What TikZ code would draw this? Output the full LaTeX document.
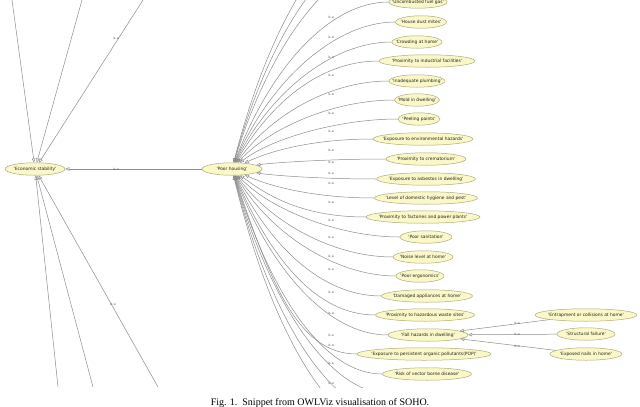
\documentclass[tikz,border=0pt]{standalone}
\usepackage{fontspec}
\setmainfont{Liberation Serif}
\newfontfamily\nodefont{DejaVu Sans}
\usetikzlibrary{shapes.geometric,arrows.meta,calc}
\definecolor{nodefill}{RGB}{250,248,200}
\definecolor{nodedraw}{RGB}{175,170,120}
\definecolor{edgecol}{RGB}{140,140,140}
\definecolor{labcol}{RGB}{100,100,100}
\definecolor{txtcol}{RGB}{35,35,25}
\begin{document}
\begin{tikzpicture}[x=1pt,y=-1pt,
  cls/.style={ellipse, draw=nodedraw, fill=nodefill, line width=0.5pt,
    inner xsep=-40pt, inner ysep=0pt, minimum height=12.5pt,
    font=\nodefont\fontsize{4.4}{5.2}\selectfont, text=txtcol},
  isa/.style={draw=edgecol, line width=0.5pt,
    -{Triangle[open,length=4pt,width=3.5pt]}},
  lab/.style={font=\nodefont\fontsize{3.3}{4}\selectfont, text=labcol, inner sep=0pt},
  capt/.style={font=\fontsize{10}{12}\selectfont, inner sep=0pt, anchor=base}]
\useasboundingbox (0,0) rectangle (640,407);
\begin{scope}
\clip (0,0) rectangle (640,387);
% main classes
\node[cls, minimum width=60pt] (es) at (35,169) {\textquotesingle Economic stability\textquotesingle};
\node[cls, minimum width=60pt] (ph) at (232,169) {\textquotesingle Poor housing\textquotesingle};
% children of Poor housing
\foreach \n/\cx/\cy/\w/\t in {
  c1/418/2/58/Uncombusted fuel gas,
  c2/421/22/51/House dust mites,
  c3/417/42/50/Crowding at home,
  c4/427/61/96/Proximity to industrial facilities,
  c5/417/81/56/Inadequate plumbing,
  c6/417/100/45/Mold in dwelling,
  c7/419/119/42/Peeling paints,
  c8/423/139/100/Exposure to environmental hazards,
  c9/426/159/80/Proximity to crematorium,
  c10/426/179/99/Exposure to asbestos in dwelling,
  c11/426/198/103/Level of domestic hygiene and pest,
  c12/423/217/114/Proximity to factories and power plants,
  c13/426/237/52/Poor sanitation,
  c14/423/257/60/Noise level at home,
  c15/420/276/48/Poor ergonomics,
  c16/427/296/91/Damaged appliances at home,
  c17/425/315/99/Proximity to hazardous waste sites,
  c18/428/335/80/Fall hazards in dwelling,
  c19/424/354/134/Exposure to persistent organic pollutants(POP),
  c20/427/374/89/Risk of vector borne disease}{
  \node[cls, minimum width=\w pt] (\n) at (\cx,\cy) {\textquotesingle\t\textquotesingle};
}
% children of Fall hazards
\node[cls, minimum width=102pt] (k1) at (586,315) {\textquotesingle Entrapment or collisions at home\textquotesingle};
\node[cls, minimum width=58pt] (k2) at (586,334) {\textquotesingle Structural failure\textquotesingle};
\node[cls, minimum width=72pt] (k3) at (586,354) {\textquotesingle Exposed nails in home\textquotesingle};
% off-screen ends
\coordinate (e1) at (12,0);
\coordinate (e2) at (82,0);
\coordinate (e3) at (143,0);
\coordinate (f1) at (58,387);
\coordinate (f2) at (93,387);
\coordinate (f3) at (158,387);
\coordinate (u1) at (390,-38);
\coordinate (u2) at (390,-58);
\coordinate (u3) at (390,-78);
\coordinate (d1) at (390,394);
\coordinate (d2) at (390,414);
\coordinate (d3) at (390,434);
% edges into Poor housing
\foreach \n/\cy in {
  c1/2, c2/22, c3/42, c4/61, c5/81, c6/100, c7/119, c8/139, c9/159,
  c10/179, c11/198, c12/217, c13/237, c14/257, c15/276, c16/296,
  c17/315, c18/335, c19/354, c20/374}{
  \pgfmathsetmacro\cay{169+0.6*(\cy-169)}
  \draw[isa] (\n.west) .. controls ($(\n.west)+(-60,0)$) and (270,\cay) .. (ph);
}
\foreach \n/\cy in {u1/-38, u2/-58, u3/-78, d1/394, d2/414, d3/434}{
  \pgfmathsetmacro\cay{169+0.6*(\cy-169)}
  \draw[isa] (\n) .. controls (330,\cy) and (270,\cay) .. (ph);
}
% edges into Economic stability
\draw[isa] (ph) -- (es);
\foreach \n in {e1,e2,e3,f1,f2,f3}{
  \draw[isa] (\n) -- (es);
}
% edges into Fall hazards
\foreach \n in {k1,k2,k3}{
  \draw[isa] (\n) -- (c18);
}
% edge labels
\foreach \y [count=\i] in {17,37,57,75,94,113,131,150,162,173,183,202,220,237,256,269,292,313,335,345,363,383}{
  \node[lab] (l\i) at (331,\y) {is-a};
}
\node[lab] (le1) at (116,38) {is-a};
\node[lab] (le2) at (116,169) {is-a};
\node[lab] (le3) at (113,304) {is-a};
\node[lab] (lf1) at (517,323) {is-a};
\node[lab] (lf2) at (517,334) {is-a};
\node[lab] (lf3) at (517,346) {is-a};
\end{scope}
\node[capt] (cap) at (320,405) {Fig. 1.\ \ Snippet from OWLViz visualisation of SOHO.};
\end{tikzpicture}
\end{document}
